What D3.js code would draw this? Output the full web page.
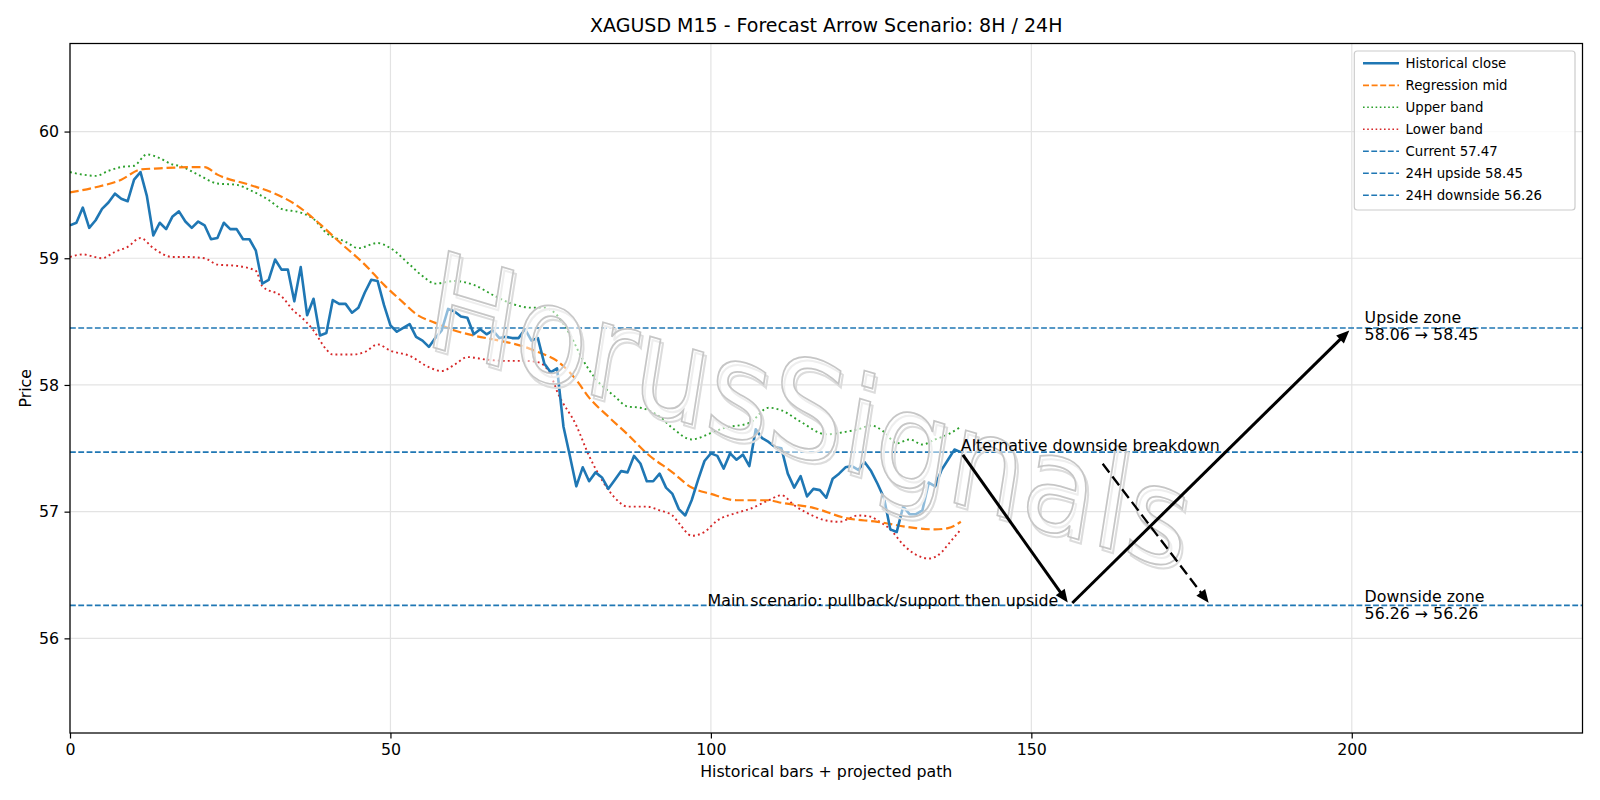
<!DOCTYPE html>
<html>
<head>
<meta charset="utf-8">
<script src="https://cdn.jsdelivr.net/npm/d3@7"></script>
<style>
  body { margin: 0; background: #fff; }
  text { font-family: "DejaVu Sans", sans-serif; }
</style>
</head>
<body>
<svg id="chart" width="1600" height="800"></svg>
<script>
// ---- data ----
const closeVals = [
  59.26,59.28,59.40,59.24,59.30,59.39,59.44,59.51,59.47,59.45,
  59.62,59.68,59.49,59.18,59.28,59.23,59.33,59.37,59.29,59.24,
  59.29,59.26,59.15,59.16,59.28,59.23,59.23,59.15,59.15,59.06,
  58.80,58.83,58.99,58.91,58.91,58.66,58.93,58.55,58.68,58.39,
  58.41,58.67,58.64,58.64,58.57,58.61,58.73,58.83,58.82,58.63,
  58.47,58.42,58.45,58.48,58.38,58.35,58.30,58.37,58.43,58.60,
  58.58,58.54,58.53,58.40,58.44,58.40,58.43,58.37,58.38,58.37,
  58.37,58.44,58.35,58.37,58.17,58.10,58.13,57.67,57.44,57.20,
  57.35,57.24,57.31,57.27,57.18,57.25,57.32,57.31,57.44,57.38,
  57.24,57.24,57.30,57.19,57.14,57.02,56.97,57.09,57.25,57.40,
  57.46,57.44,57.34,57.46,57.41,57.45,57.36,57.65,57.58,57.55,
  57.51,57.50,57.30,57.19,57.28,57.12,57.18,57.17,57.11,57.26,
  57.30,57.35,57.36,57.33,57.39,57.32,57.22,57.11,56.86,56.84,
  57.04,56.98,56.98,57.01,57.23,57.20,57.33,57.41,57.49,57.47
];

const regX   = [0,4,8,11,14,21,23,28,32,35,39,42,46,49,52,54,57,60,63,67,71,73,76,79,81,84,87,90,94,97,100,104,109,111,116,121,126,132,135,137,139];
const regMid = [59.52,59.56,59.62,59.70,59.71,59.72,59.66,59.58,59.51,59.43,
                59.27,59.13,58.95,58.79,58.65,58.56,58.49,58.43,58.39,58.35,
                58.30,58.26,58.19,58.04,57.90,57.75,57.61,57.46,57.31,57.19,
                57.14,57.09,57.09,57.07,57.03,56.95,56.92,56.87,56.86,56.87,56.92];

const upX    = [0,2,4,6,8,10,12,14,16,17,20,23,26,28,31,33,36,38,40,43,45,48,50,53,55,57,60,63,66,69,72,74,76,78,80,82,85,87,89,92,94,97,100,102,106,109,111,114,118,121,123,125,127,129,131,133,135,137,139];
const upBand = [59.68,59.66,59.65,59.69,59.72,59.73,59.82,59.79,59.74,59.73,
                59.66,59.59,59.58,59.54,59.46,59.39,59.36,59.31,59.20,59.13,
                59.08,59.12,59.08,58.95,58.86,58.80,58.82,58.79,58.71,58.64,
                58.61,58.61,58.55,58.40,58.20,58.05,57.91,57.83,57.82,57.75,
                57.66,57.57,57.62,57.66,57.70,57.82,57.80,57.71,57.61,57.63,
                57.65,57.68,57.63,57.54,57.57,57.53,57.57,57.61,57.67];

const loX    = [0,2,5,7,9,11,13,16,18,21,23,26,29,30,33,35,36,38,40,41,44,46,48,50,53,56,58,60,62,65,68,71,73,75,76,79,81,83,85,87,90,92,94,95,97,99,101,104,106,109,111,113,115,118,120,123,125,126,128,130,132,134,136,137,139];
const loBand = [59.01,59.03,59.00,59.05,59.09,59.16,59.08,59.01,59.01,59.00,
                58.95,58.94,58.90,58.78,58.70,58.58,58.54,58.43,58.28,58.24,
                58.24,58.26,58.32,58.27,58.23,58.14,58.11,58.16,58.22,58.20,
                58.19,58.19,58.18,58.08,57.95,57.68,57.44,57.25,57.11,57.04,
                57.04,57.01,56.97,56.91,56.81,56.84,56.93,56.99,57.02,57.09,
                57.13,57.05,56.99,56.93,56.92,56.97,56.96,56.93,56.86,56.74,
                56.66,56.63,56.68,56.74,56.86];

const currentPrice = 57.47, upsidePrice = 58.45, downsidePrice = 56.26;
const upsideFrom = 58.06, downsideFrom = 56.26;

const xTicks = [0, 50, 100, 150, 200];
const yTicks = [56, 57, 58, 59, 60];

// projected path arrows (x, price)
const mainArrows = [
  [[139, 57.47], [156, 56.26]],
  [[156, 56.26], [200, 58.45]]
];
const altArrow = [[160.8, 57.40], [178, 56.26]];

const legendItems = [
  {label: "Historical close",            color: "#1f77b4", dash: null,      w: 2.6},
  {label: "Regression mid",              color: "#ff7f0e", dash: "6,2.6",   w: 1.8},
  {label: "Upper band",                  color: "#2ca02c", dash: "1.6,2.6", w: 1.6},
  {label: "Lower band",                  color: "#d62728", dash: "1.6,2.6", w: 1.6},
  {label: "Current " + currentPrice.toFixed(2),       color: "#1f77b4", dash: "5.8,2.5", w: 1.6},
  {label: "24H upside " + upsidePrice.toFixed(2),     color: "#1f77b4", dash: "5.8,2.5", w: 1.6},
  {label: "24H downside " + downsidePrice.toFixed(2), color: "#1f77b4", dash: "5.8,2.5", w: 1.6}
];

const watermark = "HorusSignals";

// ---- layout ----
const pL = 70, pR = 1582.5, pT = 43.5, pB = 733;
const FS = 15.8, LFS = 13.3;

const svg = d3.select("#chart");
const x = d3.scaleLinear().domain([0, 236]).range([pL, pR]);
const y = d3.scaleLinear().domain([55.253, 60.695]).range([pB, pT]);

svg.append("defs").append("clipPath").attr("id", "plotclip")
  .append("rect").attr("x", pL).attr("y", pT)
  .attr("width", pR - pL).attr("height", pB - pT);

// grid
const grid = svg.append("g").attr("stroke", "#e3e3e3").attr("stroke-width", 1.2);
grid.selectAll("line.gx").data(xTicks).enter().append("line")
  .attr("x1", d => x(d)).attr("x2", d => x(d)).attr("y1", pT).attr("y2", pB);
grid.selectAll("line.gy").data(yTicks).enter().append("line")
  .attr("x1", pL).attr("x2", pR).attr("y1", d => y(d)).attr("y2", d => y(d));

const plot = svg.append("g").attr("clip-path", "url(#plotclip)");

const line = d3.line().x(d => x(d[0])).y(d => y(d[1]));
const smooth = d3.line().x(d => x(d[0])).y(d => y(d[1])).curve(d3.curveMonotoneX);

const closeData = closeVals.map((v, i) => [i, v]);
const regData = regX.map((v, i) => [v, regMid[i]]);
const upData = upX.map((v, i) => [v, upBand[i]]);
const loData = loX.map((v, i) => [v, loBand[i]]);

plot.append("path").datum(upData).attr("d", smooth)
  .attr("fill", "none").attr("stroke", "#2ca02c").attr("stroke-width", 1.9)
  .attr("stroke-dasharray", "1.9,3.1");
plot.append("path").datum(loData).attr("d", smooth)
  .attr("fill", "none").attr("stroke", "#d62728").attr("stroke-width", 1.9)
  .attr("stroke-dasharray", "1.9,3.1");
plot.append("path").datum(regData).attr("d", smooth)
  .attr("fill", "none").attr("stroke", "#ff7f0e").attr("stroke-width", 2.2)
  .attr("stroke-dasharray", "8.8,3.8");
plot.append("path").datum(closeData).attr("d", line)
  .attr("fill", "none").attr("stroke", "#1f77b4").attr("stroke-width", 2.6)
  .attr("stroke-linejoin", "round");

// horizontal levels
plot.selectAll("line.level").data([currentPrice, upsidePrice, downsidePrice]).enter()
  .append("line")
  .attr("x1", pL).attr("x2", pR)
  .attr("y1", d => y(d)).attr("y2", d => y(d))
  .attr("stroke", "#1f77b4").attr("stroke-width", 1.6)
  .attr("stroke-dasharray", "5.8,2.5");

// watermark (outlined, slanted), over the data lines
const wm = svg.append("g").attr("transform", "translate(422,344) rotate(9) skewY(7.6)");
wm.append("text").attr("font-size", 134).attr("x", 3).attr("y", 3)
  .style("font-family", "'DejaVu Sans Condensed', 'DejaVu Sans', sans-serif")
  .style("fill", "none").style("stroke", "#dcdcdc").style("stroke-width", 2)
  .text(watermark);
wm.append("text").attr("font-size", 134)
  .style("font-family", "'DejaVu Sans Condensed', 'DejaVu Sans', sans-serif")
  .style("fill", "#ffffff").style("fill-opacity", 0.5)
  .style("stroke", "#c6c6c6").style("stroke-width", 1.7)
  .text(watermark);

// arrows
function drawArrow(g, a, opts) {
  const x0 = x(a[0][0]), y0 = y(a[0][1]), x1 = x(a[1][0]), y1 = y(a[1][1]);
  const dx = x1 - x0, dy = y1 - y0, len = Math.hypot(dx, dy);
  const ux = dx / len, uy = dy / len;
  const s = 3.5, hl = 13, hw = 5.5;
  const sx = x0 + ux * s, sy = y0 + uy * s;
  const tx = x1 - ux * s, ty = y1 - uy * s;
  const bx = tx - ux * hl, by = ty - uy * hl;
  g.append("line").attr("x1", sx).attr("y1", sy).attr("x2", bx + ux * 2).attr("y2", by + uy * 2)
    .attr("stroke", "#000").attr("stroke-width", opts.w)
    .attr("stroke-dasharray", opts.dash || null);
  g.append("path")
    .attr("d", `M${tx},${ty}L${bx - uy * hw},${by + ux * hw}L${bx + uy * hw},${by - ux * hw}Z`)
    .attr("fill", "#000");
}
const arrows = svg.append("g");
mainArrows.forEach(a => drawArrow(arrows, a, {w: 3}));
drawArrow(arrows, altArrow, {w: 2.3, dash: "11,5"});

// annotations
const ann = svg.append("g").attr("font-size", FS).style("fill", "#000");
ann.append("text").attr("x", x(139)).attr("y", y(currentPrice) - 1.5)
  .text("Alternative downside breakdown");
ann.append("text").attr("x", x(154.2)).attr("y", y(downsidePrice) + 1)
  .attr("text-anchor", "end")
  .text("Main scenario: pullback/support then upside");
const upT = ann.append("text").attr("x", x(202)).attr("y", y(upsidePrice) - 5);
upT.append("tspan").attr("x", x(202)).text("Upside zone");
upT.append("tspan").attr("x", x(202)).attr("dy", 17)
  .text(upsideFrom.toFixed(2) + " \u2192 " + upsidePrice.toFixed(2));
const dnT = ann.append("text").attr("x", x(202)).attr("y", y(downsidePrice) - 3);
dnT.append("tspan").attr("x", x(202)).text("Downside zone");
dnT.append("tspan").attr("x", x(202)).attr("dy", 17)
  .text(downsideFrom.toFixed(2) + " \u2192 " + downsidePrice.toFixed(2));

// axes
const xAxis = svg.append("g").attr("transform", `translate(0,${pB})`)
  .call(d3.axisBottom(x).tickValues(xTicks).tickSize(5.5).tickPadding(5.5).tickFormat(d3.format("d")));
const yAxis = svg.append("g").attr("transform", `translate(${pL},0)`)
  .call(d3.axisLeft(y).tickValues(yTicks).tickSize(5.5).tickPadding(5.5).tickFormat(d3.format("d")));
[xAxis, yAxis].forEach(a => {
  a.select(".domain").remove();
  a.selectAll(".tick line").attr("stroke", "#000").attr("stroke-width", 1.2);
  a.selectAll(".tick text").attr("font-size", FS).attr("font-family", "DejaVu Sans").attr("fill", "#000");
});

svg.append("rect").attr("x", pL).attr("y", pT)
  .attr("width", pR - pL).attr("height", pB - pT)
  .attr("fill", "none").attr("stroke", "#000").attr("stroke-width", 1.25);

// titles
svg.append("text").attr("x", (pL + pR) / 2).attr("y", 32)
  .attr("text-anchor", "middle").attr("font-size", 19)
  .text("XAGUSD M15 - Forecast Arrow Scenario: 8H / 24H");
svg.append("text").attr("x", (pL + pR) / 2).attr("y", 777)
  .attr("text-anchor", "middle").attr("font-size", FS)
  .text("Historical bars + projected path");
svg.append("text").attr("transform", `translate(31,${(pT + pB) / 2}) rotate(-90)`)
  .attr("text-anchor", "middle").attr("font-size", FS)
  .text("Price");

// legend
const lg = svg.append("g");
lg.append("rect").attr("x", 1354.3).attr("y", 51).attr("width", 220.7).attr("height", 159)
  .attr("rx", 3).attr("fill", "#fff").attr("fill-opacity", 0.8)
  .attr("stroke", "#cccccc").attr("stroke-width", 1.2);
const rows = lg.selectAll("g.row").data(legendItems).enter().append("g")
  .attr("transform", (d, i) => `translate(0,${63.3 + i * 22})`);
rows.append("line").attr("x1", 1363).attr("x2", 1399).attr("y1", 0).attr("y2", 0)
  .attr("stroke", d => d.color).attr("stroke-width", d => d.w)
  .attr("stroke-dasharray", d => d.dash);
rows.append("text").attr("x", 1405.5).attr("y", 0).attr("dy", "0.36em")
  .attr("font-size", LFS).text(d => d.label);
</script>
</body>
</html>
